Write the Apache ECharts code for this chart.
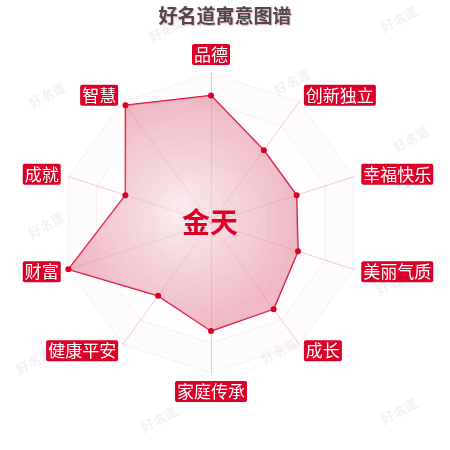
<!DOCTYPE html>
<html>
<head>
<meta charset="utf-8">
<script src="https://cdn.jsdelivr.net/npm/echarts@6/dist/echarts.min.js"></script>
<style>html,body{margin:0;padding:0;background:#fff;}#c{width:450px;height:450px;}</style>
</head>
<body>
<div id="c"></div>
<script>
// Indicators in ECharts order (counterclockwise from top)
const indicatorNames = ['品德', '智慧', '成就', '财富', '健康平安', '家庭传承', '成长', '美丽气质', '幸福快乐', '创新独立'];
const indicatorMax = 100;
const values = [85, 97, 60, 100, 60, 72, 71, 61, 60, 60];
const titleText = '好名道寓意图谱';
const centerName = '金天';
const watermarkText = '好名道';

const chart = echarts.init(document.getElementById('c'));
const wmPos = [[400,20],[168,30],[48,96],[293,83],[412,140],[47,226],[395,283],[280,352],[35,362],[160,420],[400,412]];
const graphics = wmPos.map(p => ({
  type: 'text', x: p[0], y: p[1], rotation: 0.5, z: 0,
  style: { text: watermarkText, fill: 'rgba(200,180,185,0.22)', font: 'bold 13px serif', textAlign: 'center', textVerticalAlign: 'middle' }
}));
graphics.push({
  type: 'text', x: 210, y: 222, z: 100,
  style: { text: centerName, fill: '#dc0028', font: 'bold 28px "Noto Sans CJK SC"', textAlign: 'center', textVerticalAlign: 'middle' }
});
chart.setOption({
  animation: false,
  title: {
    text: titleText, left: 'center', top: 1,
    textStyle: { fontSize: 19, fontWeight: 'bold', color: '#4a4a4a', fontFamily: 'Noto Sans CJK SC',
      textShadowColor: 'rgba(230,120,140,0.6)', textShadowBlur: 1, textShadowOffsetX: 1, textShadowOffsetY: 1 }
  },
  graphic: graphics,
  radar: {
    center: [211, 223],
    radius: 150,
    shape: 'polygon',
    splitNumber: 5,
    indicator: indicatorNames.map(n => ({ name: n, max: indicatorMax })),
    nameGap: 8,
    axisName: {
      color: '#fff', backgroundColor: '#dc0028', fontSize: 17,
      fontFamily: 'Noto Sans CJK SC', padding: [2, 2], borderRadius: 2
    },
    axisLine: { lineStyle: { color: 'rgba(225,80,110,0.3)', width: 1 } },
    splitLine: { lineStyle: { color: 'rgba(210,195,200,0.45)', type: 'dotted', width: 1 } },
    splitArea: { show: true, areaStyle: { color: ['rgba(250,235,238,0.2)', 'rgba(252,244,246,0.15)'] } }
  },
  series: [{
    type: 'radar',
    symbol: 'circle', symbolSize: 6,
    itemStyle: { color: '#dc0028' },
    lineStyle: { color: '#dc0028', width: 1.5 },
    areaStyle: {
      color: {
        type: 'radial', x: 0.5, y: 0.5, r: 0.5,
        colorStops: [
          { offset: 0, color: 'rgba(248,228,232,0.9)' },
          { offset: 1, color: 'rgba(228,140,158,0.85)' }
        ]
      }
    },
    data: [{ value: values, name: centerName }]
  }]
});
</script>
</body>
</html>
